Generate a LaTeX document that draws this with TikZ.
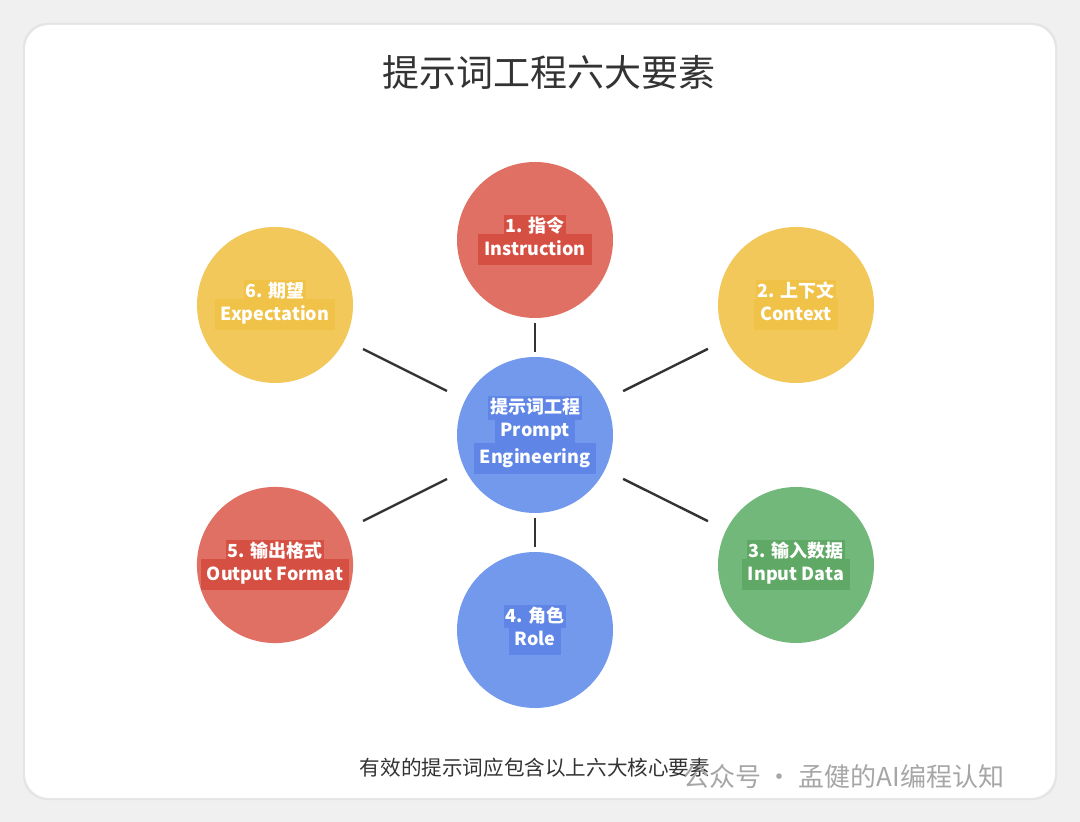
\documentclass[tikz,border=0pt]{standalone}
\usepackage{fontspec}
\setmainfont{Noto Sans CJK SC}
\usetikzlibrary{positioning}
\definecolor{redc}{HTML}{E07063}
\definecolor{redl}{HTML}{D64F43}
\definecolor{yelc}{HTML}{F2C85B}
\definecolor{yell}{HTML}{F0C248}
\definecolor{bluc}{HTML}{7399EC}
\definecolor{blul}{HTML}{5F86E6}
\definecolor{grnc}{HTML}{72B87A}
\definecolor{grnl}{HTML}{5FA865}
\newcommand{\hl}[2]{\colorbox{#1}{\rule[-2pt]{0pt}{9.5pt}#2}}
\begin{document}
\begin{tikzpicture}[x=0.5pt,y=-0.5pt,
 elem/.style={circle, minimum size=78pt, inner sep=0pt, align=center, text=white, font=\bfseries\fontsize{9}{13}\selectfont},
 link/.style={line width=1.2pt, draw=black!80, shorten >=10pt, shorten <=10pt}
 ]
 \useasboundingbox (0,0) rectangle (1080,822);
 \fill[black!6] (0,0) rectangle (1080,822);
 \fill[black!10,rounded corners=12pt] (23,23) rectangle (1057,800);
 \fill[white,rounded corners=12pt] (25,25) rectangle (1055,798);

 %Nodes
 \node[font=\fontsize{18.5}{22}\selectfont, text=black!80] (title) at (549,72) {提示词工程六大要素};
 \node[elem, fill=bluc] (core) at (535,435) {\setlength{\fboxsep}{1pt}\hl{blul}{提示词工程}\\[-3pt]\hl{blul}{Prompt}\\[-3pt]\hl{blul}{Engineering}};
 \node[elem, fill=redc] (instr) at (535,240) {\setlength{\fboxsep}{1pt}\hl{redl}{1. 指令}\\[-3pt]\hl{redl}{Instruction}};
 \node[elem, fill=yelc] (ctx) at (796,305) {\setlength{\fboxsep}{1pt}\hl{yell}{2. 上下文}\\[-3pt]\hl{yell}{Context}};
 \node[elem, fill=grnc] (input) at (796,565) {\setlength{\fboxsep}{1pt}\hl{grnl}{3. 输入数据}\\[-3pt]\hl{grnl}{Input Data}};
 \node[elem, fill=bluc] (role) at (535,630) {\setlength{\fboxsep}{1pt}\hl{blul}{4. 角色}\\[-3pt]\hl{blul}{Role}};
 \node[elem, fill=redc] (outfmt) at (275,565) {\setlength{\fboxsep}{1pt}\hl{redl}{5. 输出格式}\\[-3pt]\hl{redl}{Output Format}};
 \node[elem, fill=yelc] (expect) at (275,305) {\setlength{\fboxsep}{1pt}\hl{yell}{6. 期望}\\[-3pt]\hl{yell}{Expectation}};

 \node[font=\fontsize{10.3}{12}\selectfont, text=black!80] (note) at (535,768) {有效的提示词应包含以上六大核心要素};
 \node[font=\fontsize{13}{15}\selectfont, text=black!35, anchor=west] (mark) at (676,777) {公众号 · 孟健的AI编程认知};

 %Lines
 \draw[link, shorten >=2.5pt, shorten <=2.5pt] (core) -- (instr);
 \draw[link, shorten >=2.5pt, shorten <=2.5pt] (core) -- (role);
 \draw[link] (core) -- (ctx);
 \draw[link] (core) -- (input);
 \draw[link] (core) -- (outfmt);
 \draw[link] (core) -- (expect);
\end{tikzpicture}
\end{document}
